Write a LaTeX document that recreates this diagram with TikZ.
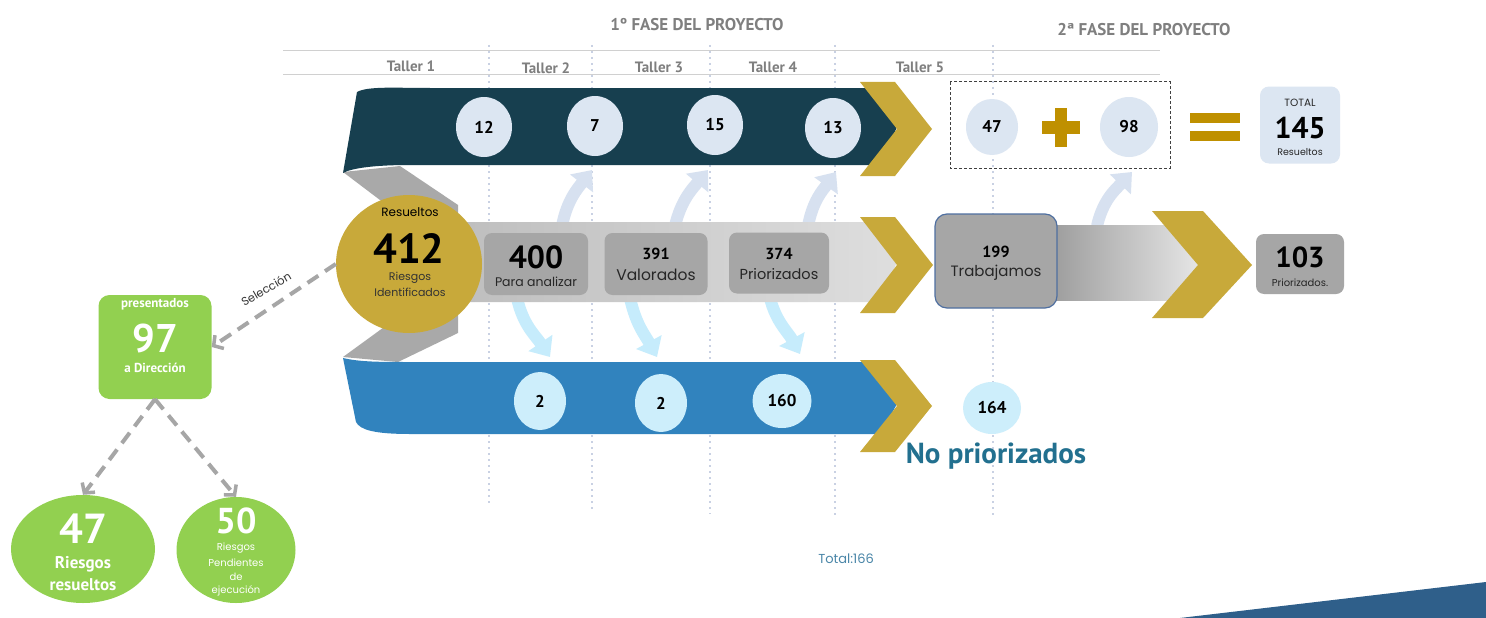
\documentclass[tikz,border=0pt]{standalone}
\usepackage{fontspec}
\setmainfont{Poppins}
\newfontfamily\numf{PT Sans}
\usetikzlibrary{arrows.meta,shapes.geometric}
\definecolor{topband}{HTML}{173F4F}
\definecolor{blueband}{HTML}{3183BE}
\definecolor{gold}{HTML}{C8A93A}
\definecolor{plusgold}{HTML}{BF9000}
\definecolor{bubblue}{HTML}{DCE6F2}
\definecolor{bubcyan}{HTML}{CDEEFB}
\definecolor{boxgray}{HTML}{A6A6A6}
\definecolor{greenf}{HTML}{92D050}
\definecolor{tealtxt}{HTML}{22708F}
\definecolor{totaltxt}{HTML}{4A86A8}
\definecolor{titlegray}{HTML}{7F7F7F}
\definecolor{dotline}{HTML}{C9D1E3}
\definecolor{uparr}{HTML}{D7E1F0}
\definecolor{downarr}{HTML}{C6ECFC}
\definecolor{dashgray}{HTML}{A6A6A6}
\definecolor{hline}{HTML}{D0D0D0}
\definecolor{foldgray}{HTML}{A9A9A9}
\definecolor{midL}{HTML}{BDBDBD}
\definecolor{midR}{HTML}{DEDEDE}
\definecolor{secL}{HTML}{9C9C9C}
\definecolor{secR}{HTML}{E6E6E6}
\definecolor{swoosh}{HTML}{2F5F8A}
\definecolor{boxline}{HTML}{4F6FA0}
\newcommand\fsz[1]{\fontsize{#1pt}{#1pt}\selectfont}
\tikzset{
  bubtop/.style={ellipse, fill=bubblue, minimum width=56pt, minimum height=60pt, inner sep=0pt, font=\numf\bfseries\fsz{17}},
  bubbot/.style={ellipse, fill=bubcyan, minimum width=52pt, minimum height=58pt, inner sep=0pt, font=\numf\bfseries\fsz{17}},
  graybox/.style={rectangle, rounded corners=8pt, fill=boxgray, inner sep=0pt},
  tallerlbl/.style={text=titlegray, font=\numf\bfseries\fsz{15}},
  titlelbl/.style={text=titlegray, font=\numf\bfseries\fsz{17}},
  chev/.style={fill=gold},
  uparrow/.style={draw=uparr, line width=12pt, -{Triangle[width=28pt,length=17pt]}},
  downarrow/.style={draw=downarr, line width=12pt, -{Triangle[width=28pt,length=17pt]}},
  dasharrow/.style={draw=dashgray, line width=4pt, dash pattern=on 13pt off 8pt, -{Straight Barb[length=7pt,width=16pt,line width=3.5pt]}},
  vdots/.style={draw=dotline, line width=2pt, dash pattern=on 2pt off 4pt},
  btxt/.style={inner sep=0pt, font=\numf\bfseries},
  ltxt/.style={inner sep=0pt},
  wtxt/.style={inner sep=0pt, text=white, font=\numf\bfseries},
}
\begin{document}
\begin{tikzpicture}[x=1pt,y=-1pt]
\useasboundingbox (0,0) rectangle (1486,618);
\fill[white] (0,0) rectangle (1486,618);

% titles and header lines
\node[titlelbl] (f1) at (697,25) {1º FASE DEL PROYECTO};
\node[titlelbl] (f2) at (1144,30) {2ª FASE DEL PROYECTO};
\draw[hline, line width=1pt] (283,51) -- (1160,51);
\draw[hline, line width=1pt] (283,75) -- (1160,75);
\node[tallerlbl] (t1) at (411,66) {Taller 1};
\node[tallerlbl] (t2) at (546,68) {Taller 2};
\node[tallerlbl] (t3) at (659,67) {Taller 3};
\node[tallerlbl] (t4) at (773,67) {Taller 4};
\node[tallerlbl] (t5) at (920,67) {Taller 5};

% vertical dotted separators
\draw[vdots] (489,45) -- (489,505);
\draw[vdots] (592,45) -- (592,512);
\draw[vdots] (710,45) -- (710,514);
\draw[vdots] (835,45) -- (835,518);
\draw[vdots] (993,45) -- (993,516);

% curved arrows up
\draw[uparrow] (562,226) .. controls (567,200) and (578,188) .. (592,170);
\draw[uparrow] (675,226) .. controls (681,200) and (693,188) .. (708,170);
\draw[uparrow] (808,226) .. controls (813,200) and (823,190) .. (836,172);
\draw[uparrow] (1097,226) .. controls (1103,200) and (1115,190) .. (1132,172);
% curved arrows down
\draw[downarrow] (517,298) .. controls (523,325) and (535,335) .. (550,357);
\draw[downarrow] (630,298) .. controls (636,325) and (645,335) .. (657,357);
\draw[downarrow] (770,298) .. controls (776,322) and (788,332) .. (800,354);

% gray folds
\fill[foldgray] (343,172) -- (400,166) -- (458,205) -- (458,252) -- (446,250) -- cycle;
\fill[foldgray] (343,357) -- (446,282) -- (458,282) -- (458,333) -- (398,362) -- cycle;

% top band
\fill[topband] (357,92) .. controls (368,86) and (395,88) .. (430,88) -- (880,88) -- (897,127) -- (880,165) -- (410,165) .. controls (375,165) and (352,168) .. (343,173) -- cycle;
% bottom band
\fill[blueband] (343,358) .. controls (360,362) and (380,362) .. (410,362) -- (880,362) -- (897,404) -- (880,434) -- (410,434) .. controls (375,434) and (360,430) .. (356,422) -- cycle;
% middle band
\shade[left color=midL, right color=midR] (440,222) -- (880,222) -- (897,262) -- (880,302) -- (440,302) -- cycle;
% second band
\shade[left color=secL, right color=secR] (1050,225) -- (1200,225) -- (1200,300) -- (1050,300) -- cycle;

% chevrons
\fill[chev] (860,82) -- (895,82) -- (932,129) -- (895,176) -- (860,176) -- (897,129) -- cycle;
\fill[chev] (860,217) -- (895,217) -- (933,265) -- (895,313) -- (860,313) -- (897,265) -- cycle;
\fill[chev] (860,360) -- (895,360) -- (932,406) -- (895,452) -- (860,452) -- (897,406) -- cycle;
\fill[chev] (1152,211) -- (1203,211) -- (1252,265) -- (1203,318) -- (1152,318) -- (1198,265) -- cycle;

% big gold circle
\node[ellipse, fill=gold, minimum width=146pt, minimum height=138pt, inner sep=0pt] (c412) at (409,264) {};
\node[ltxt, font=\fsz{12}] (c412a) at (410,212) {Resueltos};
\node[btxt, font=\numf\bfseries\fsz{42}] (c412b) at (409,249) {412};
\node[ltxt, font=\fsz{11}, text=black!80] (c412c) at (410,278) {Riesgos};
\node[ltxt, font=\fsz{11}, text=black!80] (c412d) at (410,292) {Identificados};

% gray boxes in the middle band
\node[graybox, minimum width=104pt, minimum height=62pt] (b400) at (536,264) {};
\node[btxt, font=\numf\bfseries\fsz{32}] (b400a) at (536,257) {400};
\node[ltxt, font=\fsz{12.5}, text=black!85] (b400b) at (536,282) {Para analizar};
\node[graybox, minimum width=103pt, minimum height=62pt] (b391) at (656,264) {};
\node[btxt, font=\numf\bfseries\fsz{16}] (b391a) at (656,254) {391};
\node[ltxt, font=\fsz{15.5}, text=black!85] (b391b) at (656,275) {Valorados};
\node[graybox, minimum width=100pt, minimum height=61pt] (b374) at (779,263) {};
\node[btxt, font=\numf\bfseries\fsz{16}] (b374a) at (779,254) {374};
\node[ltxt, font=\fsz{14.5}, text=black!85] (b374b) at (779,274) {Priorizados};

% 199 box
\node[graybox, draw=boxline, line width=1.2pt, rounded corners=12pt, minimum width=122pt, minimum height=94pt] (b199) at (996,261) {};
\node[btxt, font=\numf\bfseries\fsz{16}] (b199a) at (996,252) {199};
\node[ltxt, font=\fsz{15}, text=black!85] (b199b) at (996,273) {Trabajamos};

% 103 box
\node[graybox, minimum width=88pt, minimum height=60pt] (b103) at (1300,264) {};
\node[btxt, font=\numf\bfseries\fsz{29}] (b103a) at (1300,257) {103};
\node[ltxt, font=\fsz{10}, text=black!85] (b103b) at (1300,283) {Priorizados.};

% top bubbles
\node[bubtop] (n12) at (484,127) {12};
\node[bubtop] (n7) at (595,126) {7};
\node[bubtop] (n15) at (715,125) {15};
\node[bubtop] (n13) at (833,128) {13};
\node[bubtop, minimum width=52pt, minimum height=56pt] (n47) at (992,127) {47};
\node[bubtop, minimum width=58pt] (n98) at (1129,127) {98};

% dashed box
\draw[black!75, line width=1pt, dash pattern=on 3pt off 2pt] (950,82) rectangle (1170,168);
% plus and equals
\fill[plusgold] (1055,108) rectangle (1067,147);
\fill[plusgold] (1042,121) rectangle (1080,134);
\fill[plusgold] (1190,113) rectangle (1240,123);
\fill[plusgold] (1190,131) rectangle (1240,141);

% total box
\node[rectangle, rounded corners=9pt, fill=bubblue, minimum width=80pt, minimum height=77pt, inner sep=0pt] (tot) at (1300,125) {};
\node[ltxt, font=\fsz{10.5}, text=black!85] (tota) at (1300,103) {TOTAL};
\node[btxt, font=\numf\bfseries\fsz{30}] (totb) at (1300,128) {145};
\node[ltxt, font=\fsz{9.5}, text=black!85] (totc) at (1300,152) {Resueltos};

% bottom bubbles
\node[bubbot] (m2a) at (540,401) {2};
\node[bubbot] (m2b) at (661,403) {2};
\node[bubbot, minimum width=59pt, minimum height=54pt] (m160) at (782,401) {160};
\node[bubbot, minimum width=58pt, minimum height=52pt] (m164) at (992,408) {164};

\node[inner sep=0pt, text=tealtxt, font=\numf\bfseries\fsz{29}] (nopri) at (996,456) {No priorizados};
\node[inner sep=0pt, text=totaltxt, font=\fsz{13}] (tot166) at (846,559) {Total:166};

% green nodes
\node[rectangle, rounded corners=11pt, fill=greenf, minimum width=113pt, minimum height=104pt, inner sep=0pt] (g97) at (155,347) {};
\node[wtxt, font=\numf\bfseries\fsz{13}] (g97a) at (155,304) {presentados};
\node[wtxt, font=\numf\bfseries\fsz{40}] (g97b) at (155,338) {97};
\node[wtxt, font=\numf\bfseries\fsz{13}] (g97c) at (155,368) {a Dirección};

\node[ellipse, fill=greenf, minimum width=144pt, minimum height=108pt, inner sep=0pt] (g47) at (83,549) {};
\node[wtxt, font=\numf\bfseries\fsz{42}] (g47a) at (83,529) {47};
\node[wtxt, font=\numf\bfseries\fsz{17}] (g47b) at (83,564) {Riesgos};
\node[wtxt, font=\numf\bfseries\fsz{17}] (g47c) at (83,585) {resueltos};

\node[ellipse, fill=greenf, minimum width=119pt, minimum height=106pt, inner sep=0pt] (g50) at (236,550) {};
\node[wtxt, font=\numf\bfseries\fsz{36}] (g50a) at (236,521) {50};
\node[ltxt, text=white, font=\fsz{10}] (g50b) at (236,548) {Riesgos};
\node[ltxt, text=white, font=\fsz{10}] (g50c) at (236,563) {Pendientes};
\node[ltxt, text=white, font=\fsz{10}] (g50d) at (236,577) {de};
\node[ltxt, text=white, font=\fsz{10}] (g50e) at (236,591) {ejecución};

% dashed connectors
\draw[dasharrow] (c412.west) -- (g97.east);
\node[rotate=30, font=\fsz{11.5}, text=black!80, inner sep=0pt] (sel) at (266,289) {Selección};
\draw[dasharrow] (g97.south) -- (g47.north);
\draw[dasharrow] (g97.south) -- (g50.north);

% bottom right swoosh
\fill[swoosh] (1180,618) -- (1486,582) -- (1486,618) -- cycle;
\end{tikzpicture}
\end{document}
